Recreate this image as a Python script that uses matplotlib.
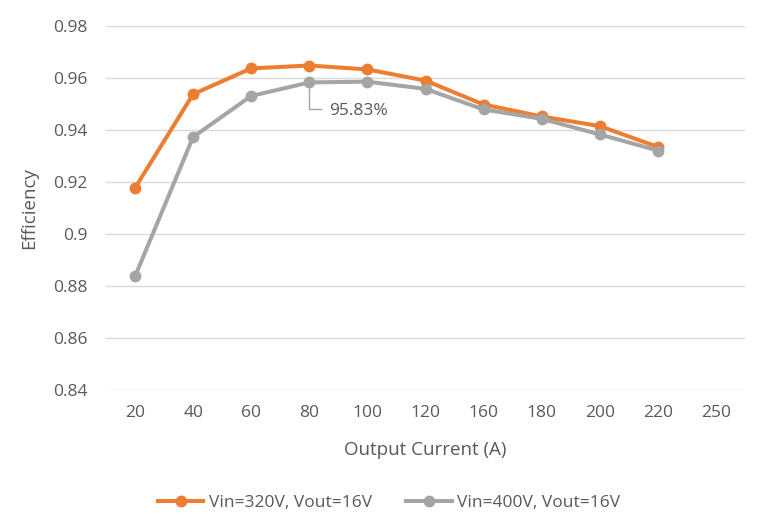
import matplotlib
matplotlib.use("Agg")
import matplotlib.pyplot as plt

categories = ["20", "40", "60", "80", "100", "120", "160", "180", "200", "220", "250"]
vin320 = [0.9177, 0.9538, 0.9637, 0.9648, 0.9633, 0.9590, 0.9498, 0.9452, 0.9415, 0.9335]
vin400 = [0.8837, 0.9373, 0.9531, 0.9583, 0.9586, 0.9558, 0.9479, 0.9443, 0.9383, 0.9321]
yticks = [0.84, 0.86, 0.88, 0.90, 0.92, 0.94, 0.96, 0.98]
ytick_labels = ["0.84", "0.86", "0.88", "0.9", "0.92", "0.94", "0.96", "0.98"]

plt.rcParams['font.family'] = ['Open Sans', 'DejaVu Sans']
txt = '#595959'

fig = plt.figure(figsize=(7.66, 5.27), dpi=100)
ax = fig.add_axes([106/766, 1-390/527, (745-106)/766, (390-26)/527])

x = list(range(len(categories)))
ax.plot(x[:len(vin320)], vin320, color='#ED7D31', lw=2.9, marker='o', ms=7.5,
        label='Vin=320V, Vout=16V', zorder=3)
ax.plot(x[:len(vin400)], vin400, color='#A5A5A5', lw=2.9, marker='o', ms=7.5,
        label='Vin=400V, Vout=16V', zorder=3)

ax.set_xlim(-0.5, len(categories) - 0.5)
ax.set_ylim(0.84, 0.98)
ax.set_xticks(x)
ax.set_xticklabels(categories)
ax.set_yticks(yticks)
ax.set_yticklabels(ytick_labels)
ax.grid(axis='y', color='#D9D9D9', lw=1)
ax.set_axisbelow(True)
for s in ['top', 'right', 'left', 'bottom']:
    ax.spines[s].set_visible(False)
ax.tick_params(length=0, labelsize=12.5, colors=txt)
ax.tick_params(axis='x', pad=11)
ax.tick_params(axis='y', pad=13)

ax.set_xlabel('Output Current (A)', fontsize=13.5, color=txt, labelpad=14)
ax.set_ylabel('Efficiency', fontsize=13.5, color=txt, labelpad=11)

# data label with leader line
i = 3
ax.annotate(f"{vin400[i]*100:.2f}%", xy=(i, vin400[i]), xytext=(14.5, -20.5),
            textcoords='offset points', fontsize=12.5, color=txt, va='center', ha='left')
ax.plot([i, i, i + 0.2], [vin400[i], 0.9481, 0.9481], color='#A5A5A5', lw=1, zorder=2)

leg = fig.legend(loc='center', bbox_to_anchor=(506/766, 1-503/527), ncol=2, frameon=False,
                 fontsize=12.5, handlelength=2.6, columnspacing=2.0, handletextpad=0.3)
leg.set_bbox_to_anchor((0.5 + 6/766, 1-503/527), transform=fig.transFigure)
for t in leg.get_texts():
    t.set_color(txt)

fig.savefig('out.png', dpi=100)
